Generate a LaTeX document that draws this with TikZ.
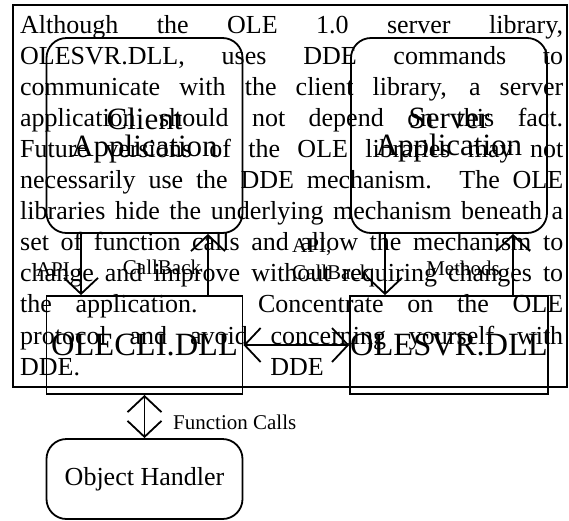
\documentclass[tikz,border=0pt]{standalone}
\usepackage{fontspec}
\setmainfont{Liberation Serif}
\usetikzlibrary{arrows.meta}
\tikzset{
  vtip/.tip={Straight Barb[length=16pt,width=34pt,line width=1.8pt]},
  rbox/.style={draw, line width=1.8pt, rounded corners=20pt, minimum width=196pt, inner sep=0pt, align=center},
  sbox/.style={draw, line width=1.8pt, minimum width=196pt, minimum height=98pt, inner sep=0pt, font=\fontsize{32.5}{32.5}\selectfont},
  conn/.style={line width=1.8pt, -{vtip}},
  dconn/.style={line width=1.8pt, {vtip}-{vtip}},
  small/.style={inner sep=0pt, font=\fontsize{21}{27}\selectfont},
}
\begin{document}
\begin{tikzpicture}[x=1pt,y=-1pt]
\useasboundingbox (0,0) rectangle (569,520);
% outer text frame
\node[draw, line width=1.4pt, minimum width=554pt, minimum height=382pt, inner sep=0pt] (outer) at (290,196) {};
\node[anchor=base west, inner sep=0pt] (para) at (20,33) {\parbox[t]{543pt}{\fontsize{26}{31.1}\selectfont
Although the OLE 1.0 server library,\linebreak
OLESVR.DLL, uses DDE commands to\linebreak
communicate with the client library, a server\linebreak
application should not depend on this fact.\linebreak
Future versions of the OLE libraries may not\linebreak
necessarily use the DDE mechanism.  The OLE\linebreak
libraries hide the underlying mechanism beneath a\linebreak
set of function calls and allow the mechanism to\linebreak
change and improve without requiring changes to\linebreak
the application.  Concentrate on the OLE\linebreak
protocol and avoid concerning yourself with\linebreak
DDE.}};
% boxes
\node[rbox, minimum height=195pt, font=\fontsize{31}{27}\selectfont] (client) at (144.5,135.5) {Client\\Application};
\node[rbox, minimum height=195pt, font=\fontsize{31}{27}\selectfont] (server) at (449,135.5) {Server\\Application};
\node[sbox] (olecli) at (144.5,345) {OLECLI.DLL};
\node[sbox] (olesvr) at (449,345) {OLESVR.DLL};
\node[rbox, minimum height=80pt, font=\fontsize{26}{26}\selectfont] (objh) at (144.5,479) {Object Handler};
% connectors
\draw[conn] (81,0 |- client.south) -- (81,0 |- olecli.north);
\draw[conn] (208,0 |- olecli.north) -- (208,0 |- client.south);
\draw[conn] (385,0 |- server.south) -- (385,0 |- olesvr.north);
\draw[conn] (513,0 |- olesvr.north) -- (513,0 |- server.south);
\draw[dconn] (olecli.east) -- (olesvr.west);
\draw[dconn] (olecli.south) -- (objh.north);
% labels
\node[small] (lapi) at (53,270) {API};
\node[small] (lcb) at (162,267) {CallBack};
\node[small, anchor=north west, align=left] (lapicb) at (292,238) {API,\\CallBack};
\node[small] (lmeth) at (463,268) {Methods};
\node[small, anchor=west] (lfc) at (173,422) {Function Calls};
\node[inner sep=0pt, font=\fontsize{26}{26}\selectfont] (ldde) at (297,367) {DDE};
\end{tikzpicture}
\end{document}
